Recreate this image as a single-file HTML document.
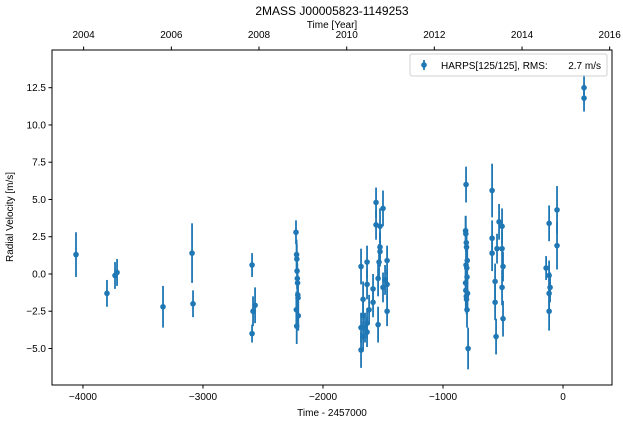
<!DOCTYPE html>
<html><head><meta charset="utf-8"><style>
body{margin:0;background:#fff;}
svg text{font-family:"Liberation Sans",Arial,sans-serif;fill:#000;}
</style></head><body>
<svg id="chart" width="623" height="425" xmlns="http://www.w3.org/2000/svg">
<rect width="623" height="425" fill="#fff"/>
<text x="332" y="15" font-size="12" text-anchor="middle">2MASS J00005823-1149253</text>
<text x="332" y="28" font-size="10" text-anchor="middle">Time [Year]</text>
<text x="332" y="416" font-size="10" text-anchor="middle">Time - 2457000</text>
<text x="13" y="217" font-size="10" text-anchor="middle" transform="rotate(-90 13 217)">Radial Velocity [m/s]</text>
<g id="marks"></g>
<g id="axes"></g>
<g>
<rect x="410" y="54" width="197" height="22" rx="2" fill="#fff" stroke="#ccc" stroke-width="1" opacity="0.9"/>
<line x1="424" y1="60" x2="424" y2="70" stroke="#1f77b4" stroke-width="1.8"/>
<circle cx="424" cy="65" r="2.8" fill="#1f77b4"/>
<text x="441" y="69" font-size="10">HARPS[125/125], RMS:</text>
<text x="601" y="69" font-size="10" text-anchor="end">2.7 m/s</text>
</g>
</svg>
<script>
const times=[-4058,-3800,-3733,-3716,-3333,-3091,-3083,-2591,-2583,-2566,-2591,
-2225,-2220,-2218,-2216,-2214,-2212,-2210,-2208,-2222,-2206,-2219,
-1683,-1633,-1558,-1500,-1558,-1525,-1525,-1525,-1533,-1466,-1541,-1633,-1583,-1483,-1466,-1500,-1666,-1583,-1616,-1466,-1666,-1541,-1683,-1633,-1633,-1666,-1683,-1650,
175,175,-808,-791,-812,-810,-806,-804,-808,-802,-800,-810,-796,-806,-804,-800,-798,-812,
-591,-591,-591,-566,-566,-558,-533,-508,-508,-500,-508,-500,-550,
-116,-50,-50,-141,-116,-108,-116,-116];
const rvs=[1.3,-1.3,-0.1,0.1,-2.2,1.4,-2.0,0.6,-2.5,-2.1,-4.0,
2.8,1.3,1.0,0.2,-0.3,-0.6,-1.4,-1.6,-2.4,-2.8,-3.5,
0.5,0.8,4.8,4.4,3.3,3.2,1.8,1.5,0.8,0.9,-0.3,-0.7,-1.0,-0.4,-0.7,-0.9,-1.7,-1.9,-2.4,-2.5,-2.8,-3.4,-3.6,-3.3,-3.9,-4.2,-5.1,-3.6,
12.5,11.8,6.0,-5.0,2.9,2.7,2.1,1.8,0.6,0.4,-0.2,-1.1,-1.3,-1.5,-1.7,-2.4,0.9,-0.6,
5.6,2.4,1.4,-0.5,-1.9,-4.2,3.5,3.2,1.7,0.5,-0.9,-3.0,1.7,
3.4,4.3,1.9,0.4,-0.1,-0.9,-1.3,-2.5];
const errs=[1.5,0.9,0.9,0.9,1.4,2.0,0.9,0.8,1.0,1.2,0.6,
0.8,1.0,1.0,1.2,1.0,1.0,1.0,1.2,1.2,1.0,1.2,
1.2,1.1,1.0,1.2,1.0,1.2,1.0,1.0,1.2,1.0,1.2,1.0,1.0,1.0,1.0,1.0,1.2,1.0,1.0,1.0,1.0,1.2,1.0,1.0,1.0,1.0,1.2,1.0,
0.9,0.9,1.2,1.4,1.0,1.2,1.0,1.0,1.2,1.0,1.0,1.2,1.0,1.0,1.0,1.2,1.0,1.0,
1.8,1.2,1.2,1.2,1.2,1.2,1.2,1.2,1.2,1.0,1.2,1.2,1.0,
1.2,1.6,1.6,0.8,1.0,1.0,1.0,1.3];
const xTicks=[-4000,-3000,-2000,-1000,0];
const yTicks=[-5.0,-2.5,0.0,2.5,5.0,7.5,10.0,12.5];
const yearTicks=[2004,2006,2008,2010,2012,2014,2016];
const X0=52,X1=612,Y0=50,Y1=385,TMIN=-4258,TMAX=408,VMIN=-7.45,VMAX=15.03;
function sx(t){return X0+(t-TMIN)/(TMAX-TMIN)*(X1-X0);}
function sy(v){return Y1-(v-VMIN)/(VMAX-VMIN)*(Y1-Y0);}
function yearToT(y){return (Date.UTC(y,0,1)/86400000+2440587.5)-2457000;}
const NS='http://www.w3.org/2000/svg';
function mk(tag,attrs,parent){const e=document.createElementNS(NS,tag);for(const k in attrs)e.setAttribute(k,attrs[k]);parent.appendChild(e);return e;}
const marks=document.getElementById('marks');
for(let i=0;i<times.length;i++){
 const g=mk('g',{},marks);
 
 
 const x=sx(times[i]);
 mk('line',{x1:x,x2:x,y1:sy(rvs[i]-errs[i]),y2:sy(rvs[i]+errs[i]),stroke:'#1f77b4','stroke-width':1.8},g);
 mk('circle',{cx:x,cy:sy(rvs[i]),r:2.8,fill:'#1f77b4'},g);
}
const ax=document.getElementById('axes');
const fr=mk('rect',{x:X0,y:Y0,width:X1-X0,height:Y1-Y0,fill:'none',stroke:'#000','stroke-width':1},ax);


xTicks.forEach(t=>{const x=sx(t);
 mk('line',{x1:x,x2:x,y1:Y1,y2:Y1+3.5,stroke:'#000'},ax);
 const tx=mk('text',{x:x,y:Y1+15,'font-size':10,'text-anchor':'middle'},ax);
 tx.textContent=(t<0?'\u2212'+(-t):t);
 
 });
yTicks.forEach(v=>{const y=sy(v);
 mk('line',{x1:X0-3.5,x2:X0,y1:y,y2:y,stroke:'#000'},ax);
 const tx=mk('text',{x:X0-6,y:y+3.5,'font-size':10,'text-anchor':'end'},ax);
 tx.textContent=(v<0?'\u2212':'')+Math.abs(v).toFixed(1);
 
 });
yearTicks.forEach(yr=>{const x=sx(yearToT(yr));
 mk('line',{x1:x,x2:x,y1:Y0-3.5,y2:Y0,stroke:'#000'},ax);
 const tx=mk('text',{x:x,y:Y0-12,'font-size':10,'text-anchor':'middle'},ax);
 tx.textContent=yr;
 
 });
</script>
</body></html>
